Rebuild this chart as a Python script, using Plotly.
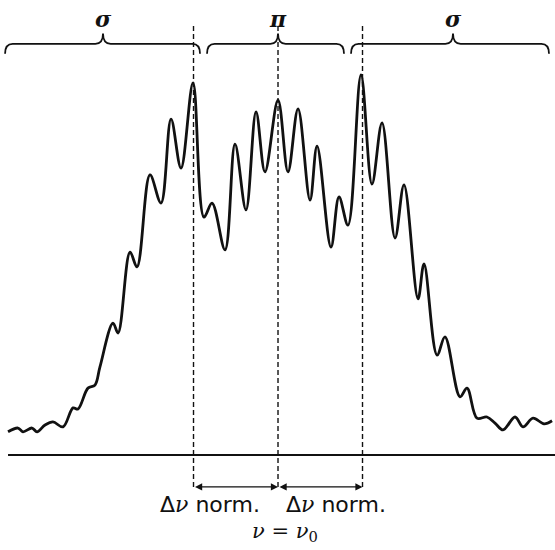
import plotly.graph_objects as go

# Zeeman pattern: frequency offset in units of the normal splitting, relative intensity
freq = [-3.195, -3.077, -3.018, -2.911, -2.852, -2.757, -2.663, -2.544, -2.426, -2.367,
        -2.249, -2.166, -2.107, -1.953, -1.893, -1.751, -1.669, -1.515, -1.385, -1.266,
        -1.148, -1.006, -0.876, -0.781, -0.627, -0.509, -0.379, -0.260, -0.154, 0.0,
        0.118, 0.237, 0.379, 0.462, 0.627, 0.722, 0.828, 0.982, 1.112, 1.231,
        1.385, 1.491, 1.657, 1.728, 1.882, 1.976, 2.154, 2.237, 2.355, 2.473,
        2.568, 2.663, 2.805, 2.899, 3.018, 3.148, 3.243]
intensity = [6.1, 7.1, 6.1, 7.1, 6.1, 7.9, 8.7, 7.4, 12.4, 12.1,
             17.6, 18.4, 23.2, 34.7, 32.1, 53.4, 49.5, 73.7, 66.3, 88.4,
             75.5, 97.9, 62.6, 66.3, 54.0, 81.8, 64.5, 90.3, 74.5, 93.4,
             74.5, 91.1, 67.1, 81.3, 54.7, 67.9, 60.5, 100.0, 71.3, 87.4,
             57.1, 71.1, 41.1, 50.3, 26.3, 31.1, 15.3, 17.6, 9.7, 10.0,
             8.4, 6.6, 10.0, 7.4, 9.7, 8.2, 9.0]

# Component groups: label, left edge, right edge, brace tip
groups = ["σ", "π", "σ"]
group_left = [-3.23, -0.84, 0.864]
group_right = [-0.923, 0.781, 3.207]
group_tip = [-2.071, 0.0, 2.071]

# Reference frequencies: shifted lines at ±Δν norm, unshifted line at ν0
ref_lines = [-1.0, 0.0, 1.0]
split_labels = ["Δ<span style='font-family:DejaVu Serif'><i>ν</i></span> norm.",
                "Δ<span style='font-family:DejaVu Serif'><i>ν</i></span> norm."]
split_label_x = [-0.80, 0.69]

X_RANGE = [-3.290, 3.278]
Y_RANGE = [-25.0, 119.74]
Y_BRACE, Y_BRACE_END, Y_BRACE_TIP = 108.2, 105.6, 110.9
Y_LABEL = 114.7
Y_DASH_TOP, Y_DASH_BOT = 112.9, -8.4
Y_ARROW = -8.4

fig = go.Figure()

fig.add_trace(go.Scatter(
    x=freq, y=intensity, mode="lines",
    line=dict(color="#111111", width=2.8, shape="spline", smoothing=1.0),
    hoverinfo="skip", showlegend=False,
))

# baseline
fig.add_shape(type="line", x0=freq[0], x1=X_RANGE[1], y0=0, y1=0,
              line=dict(color="#111111", width=2))

# dashed reference lines
for xr in ref_lines:
    fig.add_shape(type="line", x0=xr, x1=xr, y0=Y_DASH_BOT, y1=Y_DASH_TOP,
                  line=dict(color="#111111", width=1.4, dash="5px,3px"))


def brace_path(x0, x1, xt):
    d = 0.09
    return (f"M {x0},{Y_BRACE_END} Q {x0},{Y_BRACE} {x0 + d},{Y_BRACE} "
            f"L {xt - d},{Y_BRACE} Q {xt},{Y_BRACE} {xt},{Y_BRACE_TIP} "
            f"Q {xt},{Y_BRACE} {xt + d},{Y_BRACE} "
            f"L {x1 - d},{Y_BRACE} Q {x1},{Y_BRACE} {x1},{Y_BRACE_END}")


for lab, xl, xr, xt in zip(groups, group_left, group_right, group_tip):
    fig.add_shape(type="path", path=brace_path(xl, xr, xt),
                  line=dict(color="#111111", width=1.8))
    fig.add_annotation(x=xt, y=Y_LABEL, text=f"<b><i>{lab}</i></b>", showarrow=False,
                       font=dict(family="DejaVu Serif", size=22, color="#111111"))

# splitting arrows
for a, b in zip(ref_lines[:-1], ref_lines[1:]):
    fig.add_annotation(x=b, y=Y_ARROW, ax=a, ay=Y_ARROW, xref="x", yref="y",
                       axref="x", ayref="y", text="", showarrow=True,
                       arrowhead=2, arrowside="end+start", arrowsize=1.1,
                       arrowwidth=1.3, arrowcolor="#111111", standoff=0, startstandoff=0)

for lab, xs in zip(split_labels, split_label_x):
    fig.add_annotation(x=xs, y=-13.0, text=lab, showarrow=False, yanchor="middle",
                       font=dict(family="DejaVu Sans", size=22, color="#111111"))
fig.add_annotation(x=0.08, y=-20.2,
                   text="<i>ν</i> = <i>ν</i><sub>0</sub>", showarrow=False,
                   font=dict(family="DejaVu Serif", size=21, color="#111111"))

fig.update_layout(
    width=555, height=550,
    margin=dict(l=0, r=0, t=0, b=0),
    paper_bgcolor="white", plot_bgcolor="white",
    xaxis=dict(range=X_RANGE, visible=False, fixedrange=True),
    yaxis=dict(range=Y_RANGE, visible=False, fixedrange=True),
)

fig.write_html("out.html")
